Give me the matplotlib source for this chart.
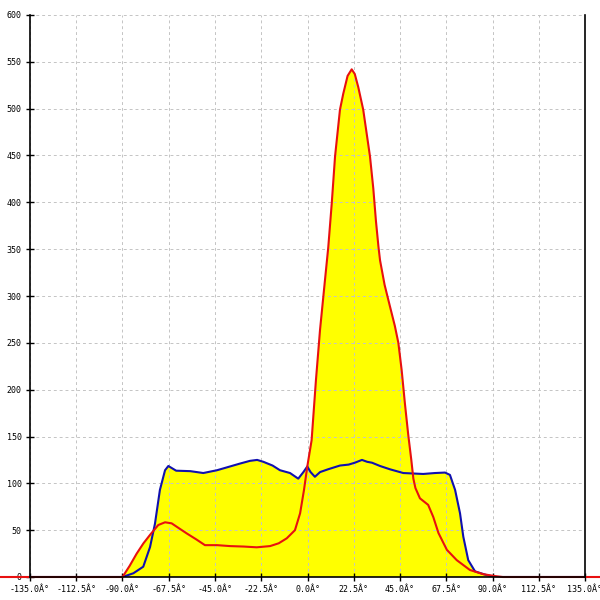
import numpy as np
import matplotlib
matplotlib.use("Agg")
import matplotlib.pyplot as plt

# blue series (angle in degrees, value)
blue_x = [-150, -90, -84.7, -79.9, -76.6, -74.2, -71.8, -69.3, -67.7, -63.9, -57, -50.7,
          -44, -37.7, -33, -28, -24.5, -21.5, -17, -13.4, -8.5, -4.5, -2, -0.1, 1.5, 3.6,
          6.1, 10, 15.8, 20, 23, 26.5, 29, 31.4, 35.3, 40.1, 46.6, 56.3, 62, 66.9, 69.3,
          71.8, 74.2, 75.8, 78.2, 81.5, 87.2, 91, 150]
blue_y = [0, 0, 4, 11, 32, 57, 93, 114, 118.5, 113.5, 113, 111,
          114, 118, 121, 124, 125, 123, 119, 114, 111, 105, 112, 118, 112, 107,
          112, 115, 119, 120, 122, 125, 123, 122, 118.5, 115, 111, 110, 111, 111.5, 109,
          93, 68, 43, 18, 6, 2, 0, 0]

# red series
red_x = [-150, -90, -86.5, -83.1, -79.8, -76.6, -72.6, -69.3, -66.1, -62.5, -58.8, -54,
         -49.9, -44, -37.7, -31, -24.7, -18.2, -14, -10.1, -6.1, -3.6, -1.7, -0.1, 2,
         4.1, 6.1, 8.5, 10.1, 11.8, 13.4, 15.8, 17.4, 19.5, 21.5, 23, 24.7, 27.1, 30.4,
         32, 33.3, 34.5, 35.3, 37.5, 40.1, 42.5, 44.2, 45.8, 47.4, 49, 50.5, 51.5, 52.5,
         54.7, 58.7, 61.2, 63.7, 67.8, 72.6, 79, 85.5, 91.2, 95, 150]
red_y = [0, 0, 12, 25, 36, 45, 55.5, 58.4, 57.3, 52, 46.6, 40,
         34, 34, 33, 32.5, 31.7, 33, 36, 41.3, 50, 68, 93, 118, 146,
         210, 264, 317, 352, 399, 449, 499, 516, 535, 542, 537, 523, 499, 449,
         415, 380, 353, 338, 312, 289, 268, 250, 221, 185, 152, 125, 105, 95,
         84, 77, 64, 47, 29, 18, 7.5, 3, 1, 0, 0]

x_ticks = np.arange(-135, 135.1, 22.5)
y_ticks = np.arange(0, 601, 50)

fig = plt.figure(figsize=(6, 6), dpi=100)
ax = fig.add_axes([30 / 600, 23 / 600, 555 / 600, 562 / 600])

ax.fill_between(blue_x, blue_y, 0, color="#ffff00", lw=0, zorder=1)
ax.fill_between(red_x, red_y, 0, color="#ffff00", lw=0, zorder=1)
ax.plot(blue_x, blue_y, color="#1010b0", lw=1.5, zorder=3)
ax.plot(red_x, red_y, color="#e81010", lw=1.5, zorder=4, clip_on=False)

ax.set_xlim(-135, 135)
ax.set_ylim(0, 600)
ax.set_xticks(x_ticks)
ax.set_xticklabels([f"{v:.1f}\u00c2\u00b0" for v in x_ticks])
ax.set_yticks(y_ticks)
ax.set_yticklabels([str(v) for v in y_ticks])
ax.tick_params(direction="inout", length=6, width=1, labelsize=6, pad=3)
for lab in ax.get_xticklabels() + ax.get_yticklabels():
    lab.set_family("DejaVu Sans Mono")

ax.grid(True, color="#c4c4c4", linestyle=(0, (3, 3)), linewidth=0.7, zorder=2)
ax.set_axisbelow(False)
ax.spines["top"].set_visible(False)
for s in ["left", "right", "bottom"]:
    ax.spines[s].set_linewidth(1.2)
    ax.spines[s].set_zorder(5)

fig.savefig("out.png", dpi=100)
